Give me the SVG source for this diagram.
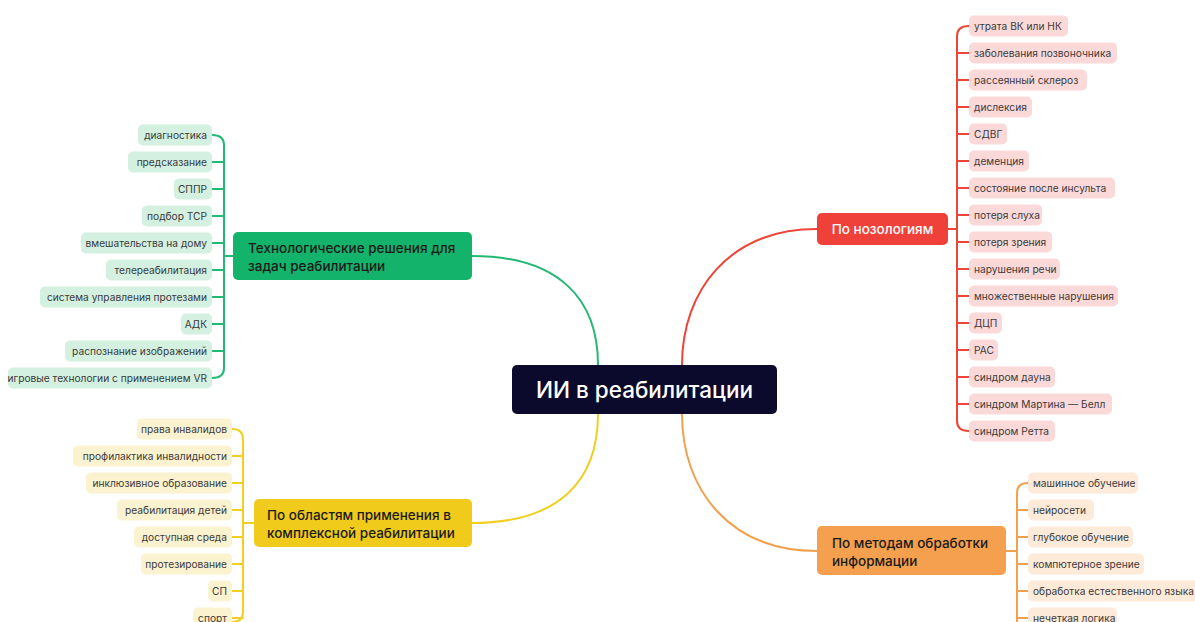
<svg xmlns="http://www.w3.org/2000/svg" width="1195" height="622" viewBox="0 0 1195 622">
<style>
text{font-family:Inter,"Noto Sans","Liberation Sans",sans-serif;}
.lf{font-size:10.2px;fill:#3a3a3a;}
.lr{text-anchor:end;}
.mn{font-size:13.5px;font-weight:500;}
.g{fill:#d3f0e1;} .r{fill:#fcd9d9;} .o{fill:#fdead8;} .y{fill:#fbf2cf;}
.cg{stroke:#23b874;} .cr{stroke:#ef4438;} .co{stroke:#f2a04d;} .cy{stroke:#f0cf22;}
.c path{fill:none;stroke-width:2;stroke-linecap:round;}
</style>
<rect width="1195" height="622" fill="#ffffff"/>
<g id="connectors" class="c">
<path class="cg" d="M598,365 C598,300 560,256 472,256"/>
<path class="cr" d="M682,365 C682,290 730,229 817,229"/>
<path class="cy" d="M598,414 C598,480 560,523 472,523"/>
<path class="co" d="M682,414 C682,490 730,551 817,551"/>
<path class="cg" d="M233,256 H224 M212,135 Q224,135 224,145 V368 Q224,378 212,378 M212,162 H224 M212,189 H224 M212,216 H224 M212,243 H224 M212,270 H224 M212,297 H224 M212,324 H224 M212,351 H224"/>
<path class="cr" d="M948,229 H957 M969,26 Q957,26 957,36 V421 Q957,431 969,431 M969,53 H957 M969,80 H957 M969,107 H957 M969,134 H957 M969,161 H957 M969,188 H957 M969,215 H957 M969,242 H957 M969,269 H957 M969,296 H957 M969,323 H957 M969,350 H957 M969,377 H957 M969,404 H957"/>
<path class="cy" d="M254,523 H243 M232,429 Q243,429 243,439 V612 Q243,622 232,622 M232,456 H243 M232,483 H243 M232,510 H243 M232,537 H243 M232,564 H243 M232,591 H243 M232,618 H243"/>
<path class="co" d="M1006,551 H1017 M1028,483 Q1017,483 1017,493 V622 M1028,510 H1017 M1028,537 H1017 M1028,564 H1017 M1028,591 H1017 M1028,618 H1017"/>
</g>
<g id="center">
<rect x="512" y="365" width="265" height="49" rx="5" fill="#0b0a2c"/>
<text x="644.5" y="397.5" font-size="22.5" font-weight="500" fill="#ffffff" text-anchor="middle">ИИ в реабилитации</text>
</g>
<g id="tech">
<rect x="233" y="232" width="239" height="48" rx="5" fill="#13b36b"/>
<text class="mn" x="248" y="253" fill="#1a1a1a">Технологические решения для</text>
<text class="mn" x="248" y="271" fill="#1a1a1a">задач реабилитации</text>
</g>
<g id="tech-leaves">
<rect class="g" x="138" y="124.5" width="74" height="21" rx="5"/><text class="lf lr" x="207" y="139">диагностика</text>
<rect class="g" x="128" y="151.5" width="84" height="21" rx="5"/><text class="lf lr" x="207" y="166">предсказание</text>
<rect class="g" x="174" y="178.5" width="38" height="21" rx="5"/><text class="lf lr" x="207" y="193">СППР</text>
<rect class="g" x="142" y="205.5" width="70" height="21" rx="5"/><text class="lf lr" x="207" y="220">подбор ТСР</text>
<rect class="g" x="81" y="232.5" width="131" height="21" rx="5"/><text class="lf lr" x="207" y="247">вмешательства на дому</text>
<rect class="g" x="106" y="259.5" width="106" height="21" rx="5"/><text class="lf lr" x="207" y="274">телереабилитация</text>
<rect class="g" x="40" y="286.5" width="172" height="21" rx="5"/><text class="lf lr" x="207" y="301">система управления протезами</text>
<rect class="g" x="181" y="313.5" width="31" height="21" rx="5"/><text class="lf lr" x="207" y="328">АДК</text>
<rect class="g" x="65" y="340.5" width="147" height="21" rx="5"/><text class="lf lr" x="207" y="355">распознание изображений</text>
<rect class="g" x="8" y="367.5" width="204" height="21" rx="5"/><text class="lf lr" x="207" y="382">игровые технологии с применением VR</text>
</g>
<g id="nozology">
<rect x="817" y="213" width="131" height="32" rx="5" fill="#ef4139"/>
<text class="mn" x="882.5" y="234" fill="#ffffff" text-anchor="middle">По нозологиям</text>
</g>
<g id="nozology-leaves">
<rect class="r" x="969" y="15.5" width="99" height="21" rx="5"/><text class="lf" x="974" y="30">утрата ВК или НК</text>
<rect class="r" x="969" y="42.5" width="148" height="21" rx="5"/><text class="lf" x="974" y="57">заболевания позвоночника</text>
<rect class="r" x="969" y="69.5" width="118" height="21" rx="5"/><text class="lf" x="974" y="84">рассеянный склероз</text>
<rect class="r" x="969" y="96.5" width="63" height="21" rx="5"/><text class="lf" x="974" y="111">дислексия</text>
<rect class="r" x="969" y="123.5" width="38" height="21" rx="5"/><text class="lf" x="974" y="138">СДВГ</text>
<rect class="r" x="969" y="150.5" width="60" height="21" rx="5"/><text class="lf" x="974" y="165">деменция</text>
<rect class="r" x="969" y="177.5" width="146" height="21" rx="5"/><text class="lf" x="974" y="192">состояние после инсульта</text>
<rect class="r" x="969" y="204.5" width="73" height="21" rx="5"/><text class="lf" x="974" y="219">потеря слуха</text>
<rect class="r" x="969" y="231.5" width="83" height="21" rx="5"/><text class="lf" x="974" y="246">потеря зрения</text>
<rect class="r" x="969" y="258.5" width="91" height="21" rx="5"/><text class="lf" x="974" y="273">нарушения речи</text>
<rect class="r" x="969" y="285.5" width="149" height="21" rx="5"/><text class="lf" x="974" y="300">множественные нарушения</text>
<rect class="r" x="969" y="312.5" width="33" height="21" rx="5"/><text class="lf" x="974" y="327">ДЦП</text>
<rect class="r" x="969" y="339.5" width="29" height="21" rx="5"/><text class="lf" x="974" y="354">РАС</text>
<rect class="r" x="969" y="366.5" width="86" height="21" rx="5"/><text class="lf" x="974" y="381">синдром дауна</text>
<rect class="r" x="969" y="393.5" width="143" height="21" rx="5"/><text class="lf" x="974" y="408">синдром Мартина — Белл</text>
<rect class="r" x="969" y="420.5" width="86" height="21" rx="5"/><text class="lf" x="974" y="435">синдром Ретта</text>
</g>
<g id="areas">
<rect x="254" y="499" width="218" height="48" rx="5" fill="#f0cb1c"/>
<text class="mn" x="267" y="520" fill="#1a1a1a">По областям применения в</text>
<text class="mn" x="267" y="538" fill="#1a1a1a">комплексной реабилитации</text>
</g>
<g id="areas-leaves">
<rect class="y" x="137" y="418.5" width="95" height="21" rx="5"/><text class="lf lr" x="227" y="433">права инвалидов</text>
<rect class="y" x="73" y="445.5" width="159" height="21" rx="5"/><text class="lf lr" x="227" y="460">профилактика инвалидности</text>
<rect class="y" x="86" y="472.5" width="146" height="21" rx="5"/><text class="lf lr" x="227" y="487">инклюзивное образование</text>
<rect class="y" x="117" y="499.5" width="115" height="21" rx="5"/><text class="lf lr" x="227" y="514">реабилитация детей</text>
<rect class="y" x="134" y="526.5" width="98" height="21" rx="5"/><text class="lf lr" x="227" y="541">доступная среда</text>
<rect class="y" x="141" y="553.5" width="91" height="21" rx="5"/><text class="lf lr" x="227" y="568">протезирование</text>
<rect class="y" x="208" y="580.5" width="24" height="21" rx="5"/><text class="lf lr" x="227" y="595">СП</text>
<rect class="y" x="193" y="607.5" width="39" height="21" rx="5"/><text class="lf lr" x="227" y="622">спорт</text>
</g>
<g id="methods">
<rect x="817" y="526" width="189" height="49" rx="5" fill="#f4a04e"/>
<text class="mn" x="832" y="548" fill="#1a1a1a">По методам обработки</text>
<text class="mn" x="832" y="566" fill="#1a1a1a">информации</text>
</g>
<g id="methods-leaves">
<rect class="o" x="1028" y="472.5" width="110" height="21" rx="5"/><text class="lf" x="1033" y="487">машинное обучение</text>
<rect class="o" x="1028" y="499.5" width="66" height="21" rx="5"/><text class="lf" x="1033" y="514">нейросети</text>
<rect class="o" x="1028" y="526.5" width="105" height="21" rx="5"/><text class="lf" x="1033" y="541">глубокое обучение</text>
<rect class="o" x="1028" y="553.5" width="116" height="21" rx="5"/><text class="lf" x="1033" y="568">компютерное зрение</text>
<rect class="o" x="1028" y="580.5" width="175" height="21" rx="5"/><text class="lf" x="1033" y="595">обработка естественного языка</text>
<rect class="o" x="1028" y="607.5" width="89" height="21" rx="5"/><text class="lf" x="1033" y="622">нечеткая логика</text>
</g>
</svg>
